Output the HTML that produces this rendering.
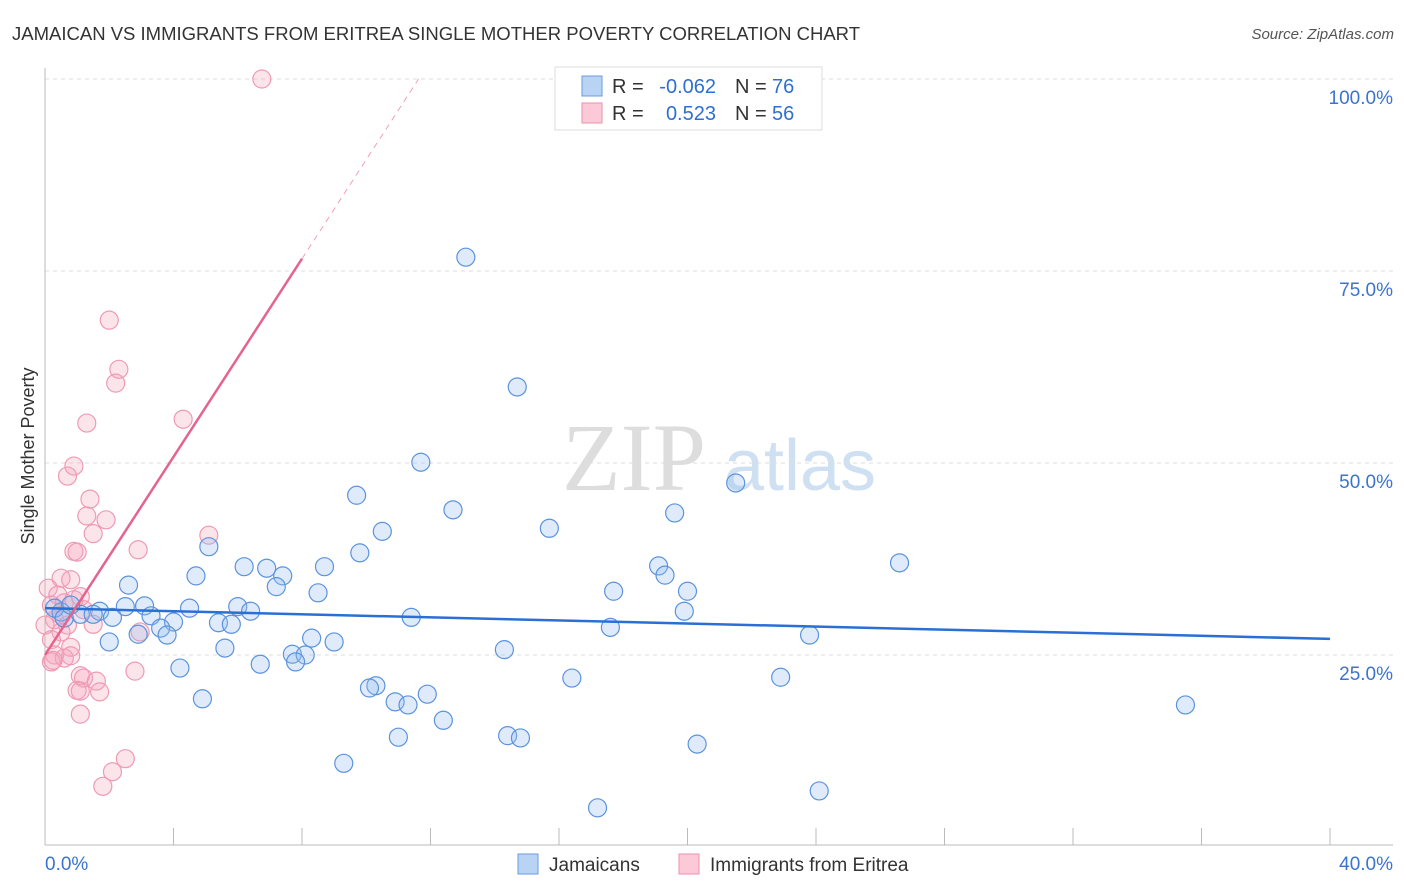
<!DOCTYPE html>
<html><head><meta charset="utf-8"><style>
body{margin:0;background:#fff;font-family:"Liberation Sans",sans-serif}
svg{display:block}
</style></head><body>
<svg id="chart" width="1406" height="892" xmlns="http://www.w3.org/2000/svg" font-family="Liberation Sans, sans-serif">
<text x="12" y="40" font-size="18" fill="#333" textLength="848" lengthAdjust="spacingAndGlyphs">JAMAICAN VS IMMIGRANTS FROM ERITREA SINGLE MOTHER POVERTY CORRELATION CHART</text>
<text x="1394" y="39" font-size="15" fill="#555" text-anchor="end" font-style="italic">Source: ZipAtlas.com</text>
<g><text x="634" y="490" font-size="96" fill="#ddd" font-family="Liberation Serif, serif" text-anchor="middle">ZIP</text><text x="800" y="490" font-size="72" fill="#cfe0f3" text-anchor="middle">atlas</text></g>
<g id="grid"></g><g id="axes"></g><g id="marks"></g>
<text transform="translate(34,456) rotate(-90)" font-size="18" fill="#333" text-anchor="middle">Single Mother Poverty</text>
<g font-size="20">
<rect x="555" y="67" width="267" height="63" fill="#fff" stroke="#ddd"/>
<rect x="582" y="76" width="20" height="20" fill="#b9d3f5" stroke="#6a9be0"/>
<rect x="582" y="103" width="20" height="20" fill="#fbc9d8" stroke="#ee92ae"/>
<text x="612" y="93" fill="#333">R =</text><text x="716" y="93" fill="#2f6fd0" text-anchor="end">-0.062</text>
<text x="735" y="93" fill="#333">N =</text><text x="772" y="93" fill="#2f6fd0">76</text>
<text x="612" y="120" fill="#333">R =</text><text x="716" y="120" fill="#2f6fd0" text-anchor="end">0.523</text>
<text x="735" y="120" fill="#333">N =</text><text x="772" y="120" fill="#2f6fd0">56</text>
</g>
<g>
<rect x="518" y="854" width="20" height="20" fill="#b9d3f5" stroke="#6a9be0"/>
<text x="549" y="871" font-size="19" fill="#333">Jamaicans</text>
<rect x="679" y="854" width="20" height="20" fill="#fbc9d8" stroke="#ee92ae"/>
<text x="710" y="871" font-size="19" fill="#333">Immigrants from Eritrea</text>
</g>
</svg>
<script>
const yTicks=[25,50,75,100];
const yTickLabels=["25.0%","50.0%","75.0%","100.0%"];
const xTickCount=[0,4,8,12,16,20,24,28,32,36,40];
const blueX=[13.1,14.7,11.7,21.5,9.7,12.7,19.6,15.7,10.5,5.1,9.8,26.6,19.1,6.2,6.9,8.7,19.3,4.7,7.4,2.6,7.2,17.7,20.0,8.5,3.1,2.5,6.0,4.5,1.7,6.4,19.9,0.5,1.1,1.5,3.3,11.4,2.1,5.4,5.8,4.0,3.6,17.6,3.8,2.9,23.8,8.3,9.0,2.0,5.6,14.3,7.7,8.1,7.8,6.7,4.2,16.4,22.9,10.3,10.1,11.9,4.9,10.9,11.3,35.5,12.4,14.4,14.8,11.0,20.3,9.3,24.1,17.2,0.3,0.6,0.8];
const blueY=[76.8,59.9,50.1,47.4,45.8,43.9,43.5,41.5,41.1,39.1,38.3,37.0,36.6,36.5,36.3,36.5,35.4,35.3,35.3,34.1,33.9,33.3,33.3,33.1,31.4,31.3,31.3,31.1,30.7,30.7,30.7,30.6,30.3,30.3,30.1,29.9,29.9,29.2,29.0,29.3,28.5,28.6,27.6,27.7,27.6,27.2,26.7,26.7,25.9,25.7,25.1,25.0,24.1,23.8,23.3,22.0,22.1,21.0,20.7,19.9,19.3,18.9,18.5,18.5,16.5,14.5,14.2,14.3,13.4,10.9,7.3,5.1,31.1,29.8,31.5];
const pinkX=[6.75,2.0,2.3,2.2,4.3,1.3,0.9,0.7,1.4,1.3,1.9,1.5,5.1,0.9,1.0,2.9,0.5,0.8,0.1,0.4,1.1,0.2,0.6,1.2,0.3,0.7,1.5,0.5,2.96,0.2,0.8,0.3,0.6,0.8,0.2,0.25,2.8,1.1,1.2,1.6,1.0,1.1,1.7,1.1,2.5,2.1,1.8,0.5,0.9,0.0];
const pinkY=[100,68.6,62.2,60.4,55.7,55.2,49.6,48.3,45.3,43.1,42.6,40.8,40.6,38.5,38.4,38.7,35.0,34.8,33.7,32.8,32.6,31.5,31.8,30.9,29.6,28.9,29.0,28.0,28.0,27.0,26.0,25.0,24.6,24.9,24.1,24.3,22.9,22.3,22.0,21.6,20.4,20.3,20.2,17.3,11.5,9.8,7.9,30.2,32.2,28.9];
const blueTrend=[31.1,27.1];
const pinkTrend=[25,6.45];
const X=v=>45+v/40*1285, Y=v=>847-v*7.68;
const NS="http://www.w3.org/2000/svg";
function mk(p,t,a){const e=document.createElementNS(NS,t);for(const k in a)e.setAttribute(k,a[k]);document.getElementById(p).appendChild(e);return e;}
yTicks.forEach((t,i)=>{
 const g=mk('grid','line',{x1:45,x2:1393,y1:Y(t),y2:Y(t),stroke:'#ddd','stroke-dasharray':'4,4'});
 
 
 const l=mk('axes','text',{x:1393,y:Y(t)+25,'font-size':19,fill:'#3a74d0','text-anchor':'end'});
 
 
 l.textContent=yTickLabels[i];
});
let a=mk('axes','line',{x1:45,x2:45,y1:68,y2:845,stroke:'#bbb'});


a=mk('axes','line',{x1:45,x2:1393,y1:845,y2:845,stroke:'#bbb'});


xTickCount.forEach(t=>{const e=mk('axes','line',{x1:X(t),x2:X(t),y1:828,y2:845,stroke:'#bbb'});
 
 });
let tl=mk('axes','text',{x:45,y:870,'font-size':19,fill:'#3a74d0'});tl.textContent='0.0%';


tl=mk('axes','text',{x:1393,y:870,'font-size':19,fill:'#3a74d0','text-anchor':'end'});tl.textContent='40.0%';


pinkX.forEach((x,i)=>{const c=mk('marks','circle',{cx:X(x),cy:Y(pinkY[i]),r:9,fill:'rgba(246,166,190,0.3)',stroke:'#ef9ab5','stroke-width':1.2});
 
 });
blueX.forEach((x,i)=>{const c=mk('marks','circle',{cx:X(x),cy:Y(blueY[i]),r:9,fill:'rgba(150,190,240,0.3)',stroke:'#5b93de','stroke-width':1.2});
 
 });
let t=mk('marks','line',{x1:X(0),y1:Y(blueTrend[0]),x2:X(40),y2:Y(blueTrend[1]),stroke:'#2a6fd6','stroke-width':2.5});


const px2=8, px3=(100-pinkTrend[0])/pinkTrend[1];
t=mk('marks','line',{x1:X(0),y1:Y(pinkTrend[0]),x2:X(px2),y2:Y(pinkTrend[0]+pinkTrend[1]*px2),stroke:'#e5648f','stroke-width':2.5});


t=mk('marks','line',{x1:X(px2),y1:Y(pinkTrend[0]+pinkTrend[1]*px2),x2:X(px3),y2:Y(100),stroke:'#efa0b8','stroke-width':1,'stroke-dasharray':'6,5'});


</script>
</body></html>
